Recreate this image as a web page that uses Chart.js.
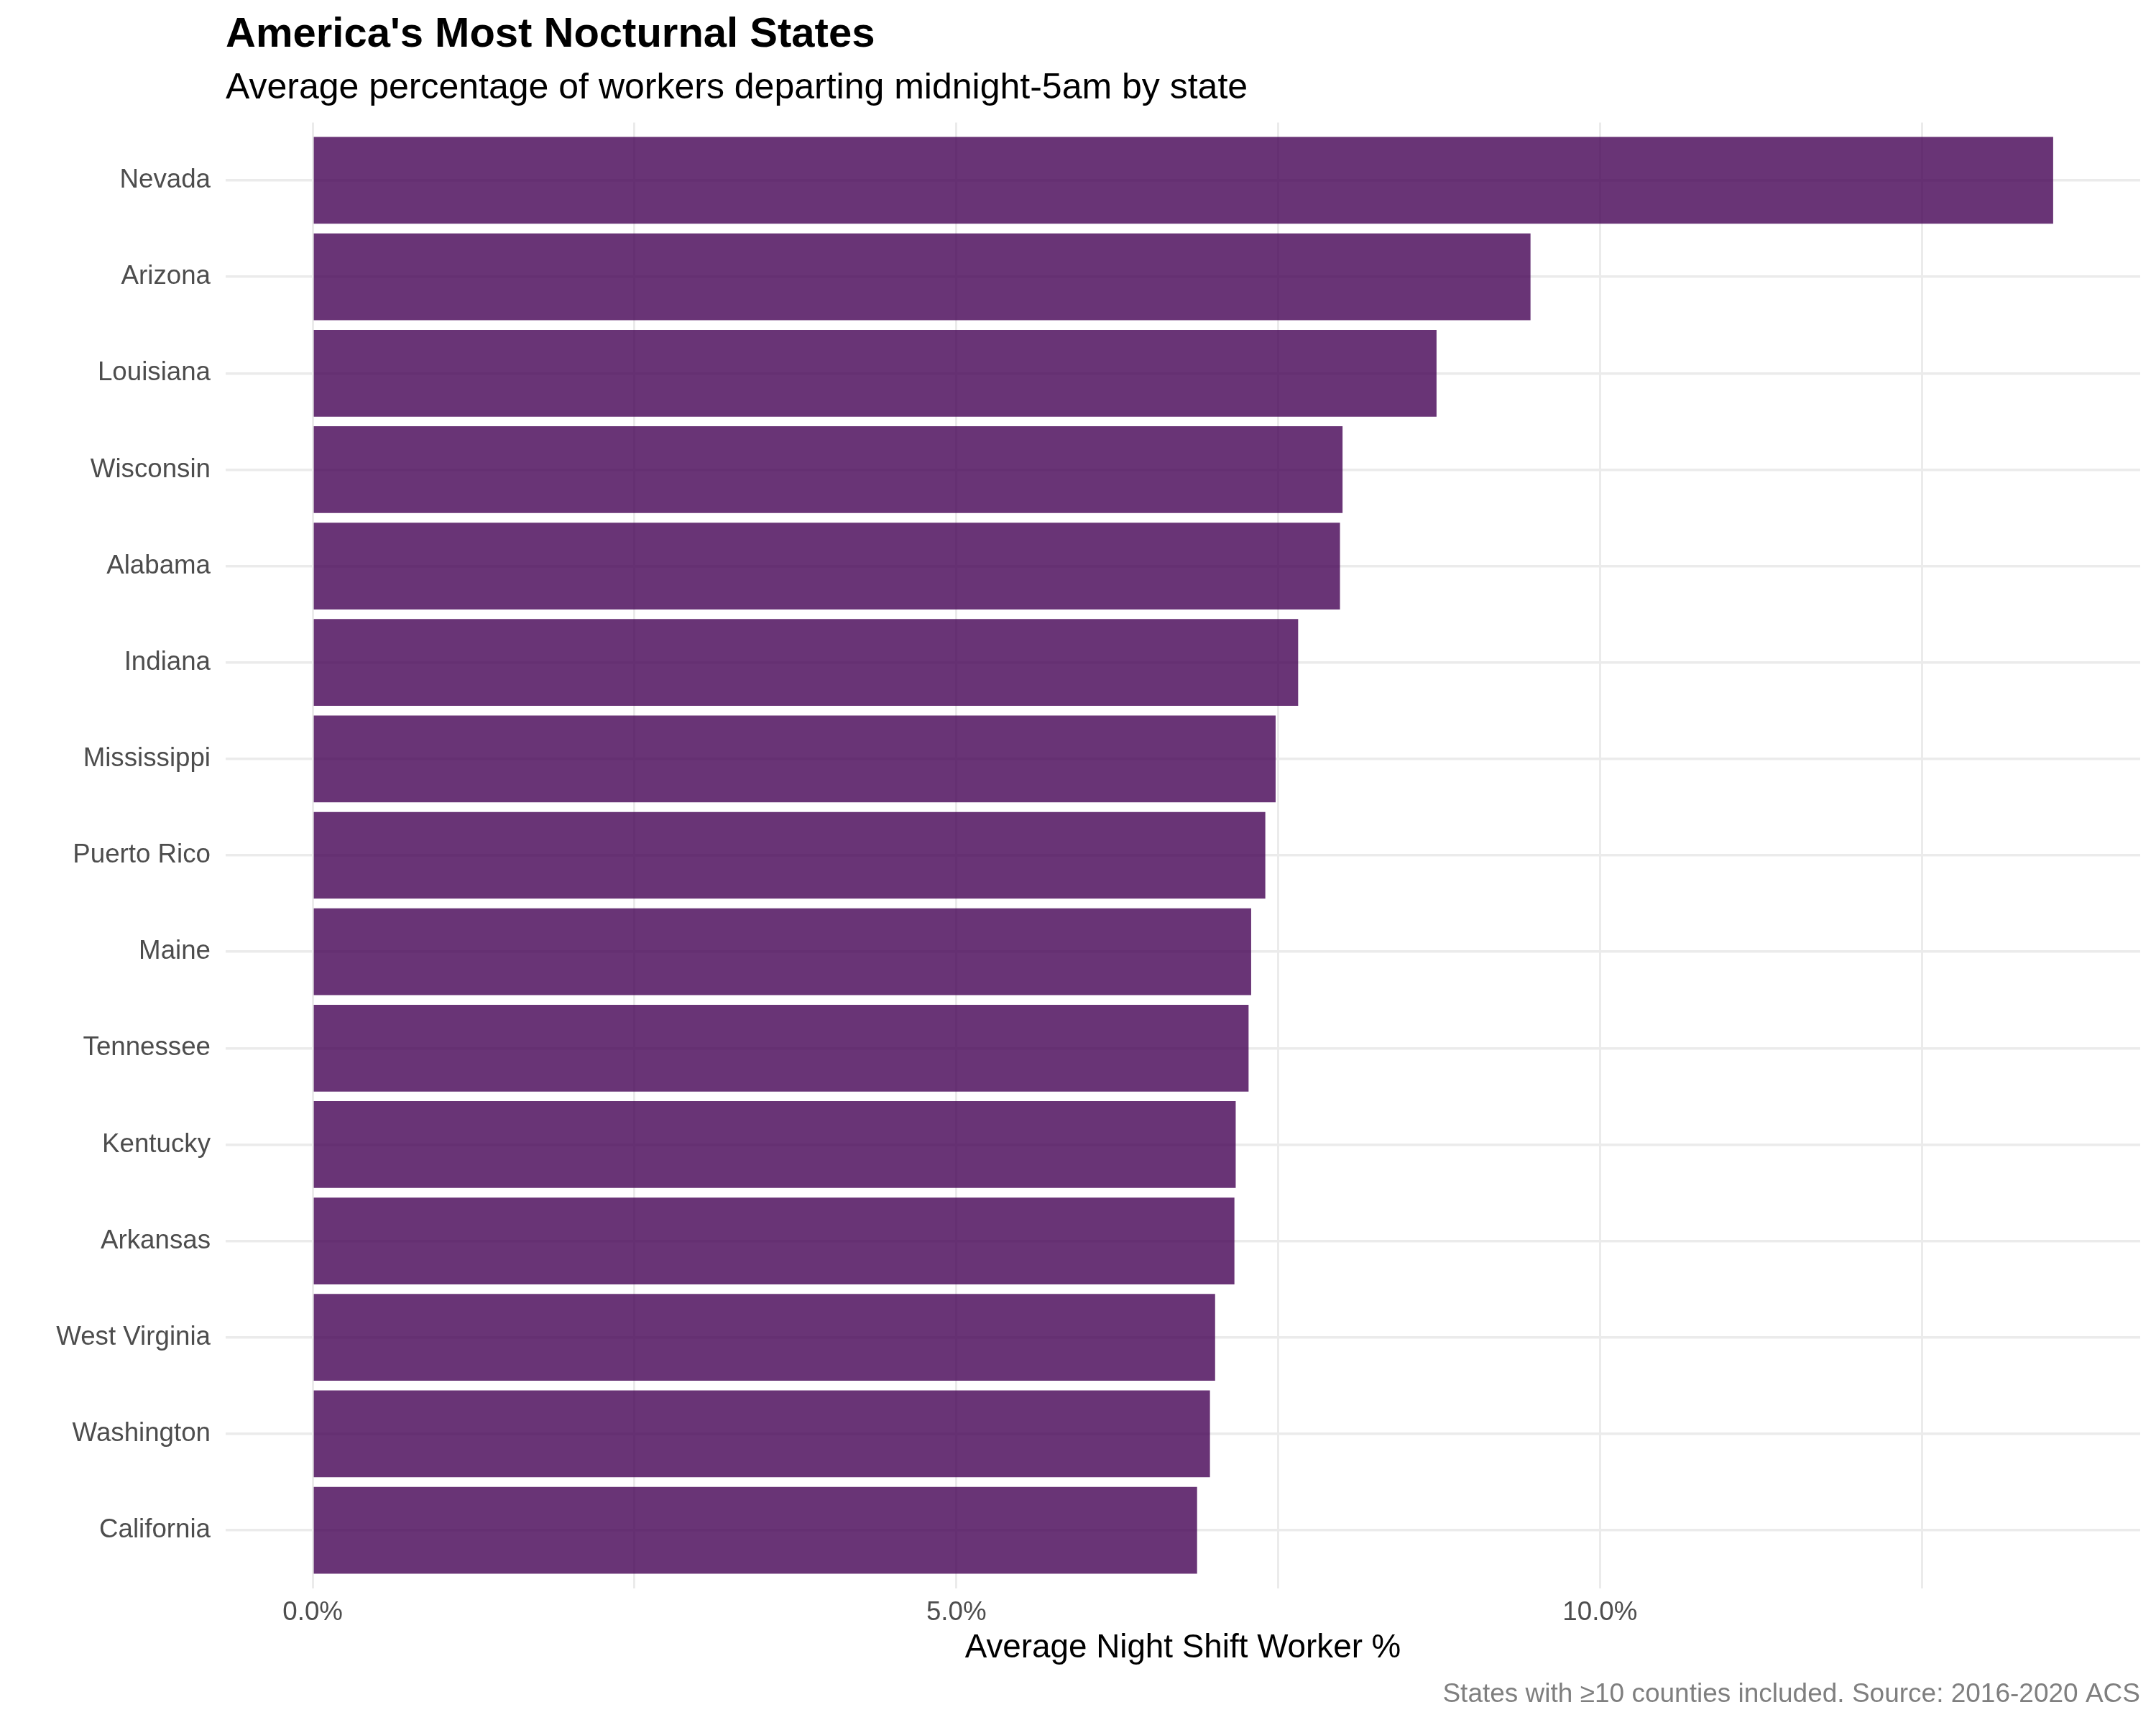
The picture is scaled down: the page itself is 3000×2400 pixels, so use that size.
<!DOCTYPE html>
<html>
<head>
<meta charset="utf-8">
<script src="https://cdn.jsdelivr.net/npm/chart.js@4/dist/chart.umd.min.js"></script>
<style>
  html, body { margin: 0; padding: 0; background: #fff; }
  #wrap { width: 3000px; height: 2400px; }
</style>
</head>
<body>
<div id="wrap"><canvas id="chart" width="3000" height="2400"></canvas></div>
<script>
// States, top to bottom, and their average share of night-shift departures (%)
const states = [
  "Nevada", "Arizona", "Louisiana", "Wisconsin", "Alabama",
  "Indiana", "Mississippi", "Puerto Rico", "Maine", "Tennessee",
  "Kentucky", "Arkansas", "West Virginia", "Washington", "California"
]
const nightShiftPct = [
  13.52, 9.46, 8.73, 8.00, 7.98,
  7.655, 7.48, 7.40, 7.29, 7.27,
  7.17, 7.16, 7.01, 6.97, 6.87
]

// x grid (major + minor) and the labels shown under it
const xTickValues = [0, 2.5, 5, 7.5, 10, 12.5]
const xTickLabels = ["0.0%", "", "5.0%", "", "10.0%", ""]

const titleText = "America's Most Nocturnal States"
const subtitleText = "Average percentage of workers departing midnight-5am by state"
const captionText = "States with \u226510 counties included. Source: 2016-2020 ACS"
const xTitleText = "Average Night Shift Worker %"

const FONT = "'Liberation Sans', Arial, Helvetica, sans-serif"
const GRID = "#EBEBEB"

// ggplot-like expansion: 5% on the value axis, 0.6 on the discrete axis
const xMax = Math.max(...nightShiftPct)
const xMin = -0.05 * xMax
const xLimit = 1.05 * xMax

// titles and caption placed relative to the panel
const textPlugin = {
  id: "texts",
  afterDraw(chart) {
    const { ctx, chartArea } = chart
    ctx.save()
    ctx.textBaseline = "alphabetic"
    ctx.textAlign = "left"
    ctx.fillStyle = "#000"
    ctx.font = `bold 58px ${FONT}`
    ctx.fillText(titleText, chartArea.left, 65)
    ctx.font = `50px ${FONT}`
    ctx.fillText(subtitleText, chartArea.left, 137)
    ctx.textAlign = "right"
    ctx.fillStyle = "#7F7F7F"
    ctx.font = `37px ${FONT}`
    ctx.fillText(captionText, chartArea.right, 2368)
    ctx.restore()
  }
}

new Chart(document.getElementById("chart"), {
  type: "bar",
  data: {
    datasets: [{
      data: nightShiftPct.map((v, i) => ({ x: v, y: i + 1 })),
      backgroundColor: "rgba(68, 1, 84, 0.8)",
      borderWidth: 0,
      categoryPercentage: 1,
      barPercentage: 0.9
    }]
  },
  options: {
    indexAxis: "y",
    responsive: false,
    devicePixelRatio: 1,
    animation: false,
    events: [],
    layout: { padding: { left: 0, top: 170.5, right: 22, bottom: 0 } },
    plugins: {
      legend: { display: false },
      tooltip: { enabled: false }
    },
    scales: {
      y: {
        type: "linear",
        reverse: true,
        offset: false,
        min: 0.4,
        max: 15.6,
        afterBuildTicks: (s) => { s.ticks = states.map((_, i) => ({ value: i + 1 })) },
        afterFit: (s) => { s.width = 314 },
        border: { display: false },
        grid: { color: GRID, lineWidth: 3.5, drawTicks: false, offset: false },
        ticks: {
          autoSkip: false,
          padding: 21,
          color: "#4D4D4D",
          font: { family: FONT, size: 36.7 },
          callback: (v) => states[v - 1]
        }
      },
      x: {
        type: "linear",
        min: xMin,
        max: xLimit,
        afterBuildTicks: (s) => { s.ticks = xTickValues.map((v) => ({ value: v })) },
        afterFit: (s) => { s.height = 190.5 },
        border: { display: false },
        grid: { color: GRID, lineWidth: 3, drawTicks: false },
        ticks: {
          autoSkip: false,
          maxRotation: 0,
          padding: 16.5,
          color: "#4D4D4D",
          font: { family: FONT, size: 36.7, lineHeight: 1 },
          callback: (v, i) => xTickLabels[i]
        },
        title: {
          display: true,
          text: xTitleText,
          color: "#000",
          font: { family: FONT, size: 45.8, lineHeight: 1 },
          padding: { top: 0, bottom: 84 }
        }
      }
    }
  },
  plugins: [textPlugin]
})
</script>
</body>
</html>
